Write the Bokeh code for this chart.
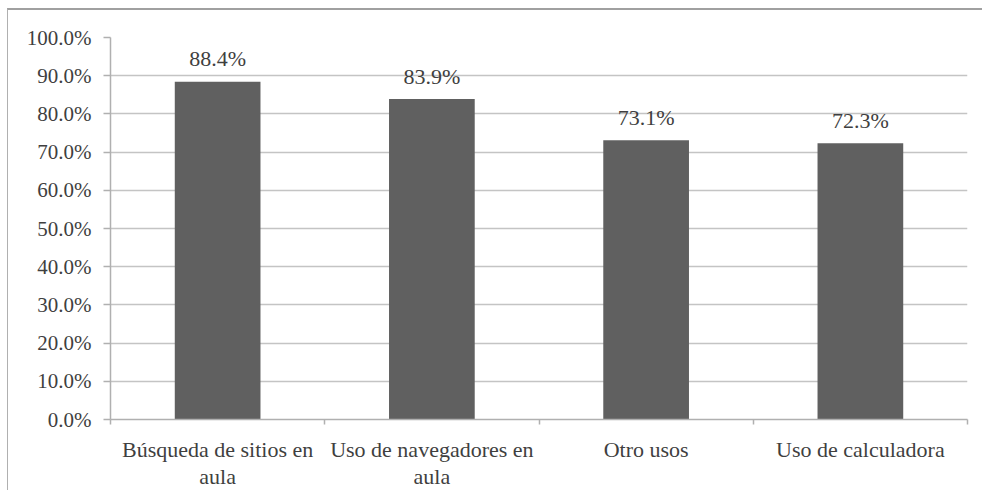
from bokeh.plotting import figure
from bokeh.models import ColumnDataSource, FixedTicker, NumeralTickFormatter, Range1d
from bokeh.core.properties import value
from bokeh.embed import file_html
from bokeh.resources import INLINE

categories = ["Búsqueda de sitios en\naula", "Uso de navegadores en\naula", "Otro usos", "Uso de calculadora"]
values = [88.4, 83.9, 73.1, 72.3]
value_labels = ["88.4%", "83.9%", "73.1%", "72.3%"]
y_ticks = [0, 10, 20, 30, 40, 50, 60, 70, 80, 90, 100]

xs = [i + 0.5 for i in range(len(categories))]
src = ColumnDataSource(dict(x=xs, top=values, lab=value_labels))

FONT = "Liberation Serif"
TXT = "#3f3f3f"
GRID = "#c4c4c4"

p = figure(width=975, height=482, output_backend="svg", toolbar_location=None,
           x_range=Range1d(0, len(categories)), y_range=Range1d(0, 100),
           min_border_left=102, min_border_right=16, min_border_top=27, min_border_bottom=68)
p.styles = {"border-left": "1px solid #b0b0b0", "border-top": "2px solid #a0a0a0",
            "margin-top": "8px", "margin-left": "7px", "box-sizing": "border-box"}
p.outline_line_color = None
p.background_fill_color = "white"
p.border_fill_color = "white"

p.vbar(x="x", top="top", width=0.40, bottom=0, source=src, fill_color="#606060", line_color=None)
p.text(x="x", y="top", text="lab", source=src, text_align="center", text_baseline="alphabetic",
       y_offset=-23, text_font=value(FONT), text_font_size="22px", text_color=TXT)

# y axis
p.yaxis.ticker = FixedTicker(ticks=y_ticks, minor_ticks=[])
p.yaxis.formatter = NumeralTickFormatter(format="0.0%")
p.yaxis.major_label_overrides = {t: f"{t:.1f}%" for t in y_ticks}
p.yaxis.axis_line_color = "#b0b0b0"
p.yaxis.axis_line_width = 1.5
p.yaxis.major_tick_line_color = "#b0b0b0"
p.yaxis.major_tick_line_width = 1.5
p.yaxis.major_tick_in = 0
p.yaxis.major_tick_out = 7
p.yaxis.minor_tick_line_color = None
p.yaxis.major_label_standoff = 12
p.yaxis.major_label_text_font = FONT
p.yaxis.major_label_text_font_size = "21px"
p.yaxis.major_label_text_color = TXT

# x axis
p.xaxis.ticker = FixedTicker(ticks=xs, minor_ticks=list(range(len(categories) + 1)))
p.xaxis.major_label_overrides = {x: c for x, c in zip(xs, categories)}
p.xaxis.axis_line_color = "#b0b0b0"
p.xaxis.axis_line_width = 1.5
p.xaxis.major_tick_line_color = None
p.xaxis.minor_tick_line_color = "#b0b0b0"
p.xaxis.minor_tick_line_width = 1.5
p.xaxis.minor_tick_in = 0
p.xaxis.minor_tick_out = 5
p.xaxis.major_label_standoff = 11
p.xaxis.major_label_text_font = FONT
p.xaxis.major_label_text_font_size = "22px"
p.xaxis.major_label_text_color = TXT
p.xaxis.major_label_text_line_height = 1.1

p.xgrid.grid_line_color = None
p.ygrid.grid_line_color = GRID
p.ygrid.grid_line_width = 1.5

open("out.html", "w").write(file_html(p, INLINE))
